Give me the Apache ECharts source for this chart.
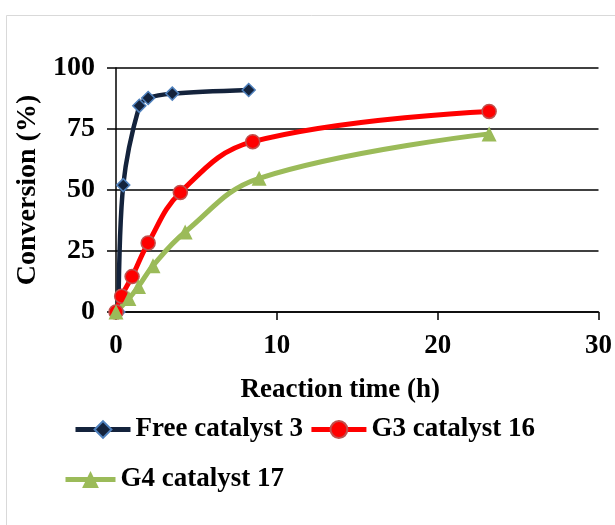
<!DOCTYPE html>
<html>
<head>
<meta charset="utf-8">
<script src="https://cdn.jsdelivr.net/npm/echarts@6/dist/echarts.min.js"></script>
<style>
  html, body { margin: 0; padding: 0; background: #fff; }
  #box { width: 615px; height: 525px; }
</style>
</head>
<body>
<div id="box"></div>
<script>
// reaction time (h) / conversion (%)
var freeTime = [0.15, 0.45, 1.45, 2.0, 3.5, 8.25];
var freeConv = [0, 52, 84.5, 87.7, 89.5, 91];
var g3Time = [0, 0.35, 1.0, 2.0, 4.0, 8.5, 23.2];
var g3Conv = [0, 6.5, 14.5, 28.3, 49, 69.8, 82.2];
var g4Time = [0, 0.8, 1.4, 2.3, 4.3, 8.9, 23.2];
var g4Conv = [0, 5.5, 10.5, 19, 32.8, 54.8, 73];
var xTicks = [0, 10, 20, 30];
var yTicks = [0, 25, 50, 75, 100];

function pairs(xs, ys) {
  return xs.map(function (x, i) { return [x, ys[i]]; });
}

var font = 'Liberation Serif';
var myChart = echarts.init(document.getElementById('box'));

var legendText = { fontFamily: font, fontWeight: 'bold', fontSize: 27, color: '#000' };

var option = {
  backgroundColor: '#fff',
  animation: false,
  graphic: [{
    type: 'rect',
    left: 4, top: 13,
    shape: { width: 640, height: 540 },
    style: { fill: 'none', stroke: '#d9d9d9', lineWidth: 1 },
    silent: true
  }],
  grid: { left: 116, right: 15, top: 68, bottom: 213 },
  xAxis: {
    type: 'value',
    min: xTicks[0], max: xTicks[xTicks.length - 1], interval: 10,
    name: 'Reaction time (h)',
    nameLocation: 'middle',
    nameGap: 65,
    nameTextStyle: { fontFamily: font, fontWeight: 'bold', fontSize: 27, color: '#000', padding: [0, 34, 0, 0] },
    axisLine: { lineStyle: { color: '#000', width: 1.5 } },
    axisTick: { show: true, inside: false, length: 8, lineStyle: { color: '#000', width: 1.5 } },
    axisLabel: { margin: 21, fontFamily: font, fontWeight: 'bold', fontSize: 27, color: '#000' },
    splitLine: { show: false }
  },
  yAxis: {
    type: 'value',
    min: yTicks[0], max: yTicks[yTicks.length - 1], interval: 25,
    name: 'Conversion (%)',
    nameLocation: 'middle',
    nameGap: 73,
    nameTextStyle: { fontFamily: font, fontWeight: 'bold', fontSize: 28, color: '#000' },
    axisLine: { show: true, lineStyle: { color: '#000', width: 1.5 } },
    axisTick: { show: true, inside: false, length: 9, lineStyle: { color: '#000', width: 1.5 } },
    axisLabel: { margin: 21, fontFamily: font, fontWeight: 'bold', fontSize: 28, color: '#000' },
    splitLine: { show: true, lineStyle: { color: '#000', width: 1.5 } }
  },
  legend: [
    {
      data: ['Free catalyst 3', 'G3 catalyst 16'],
      left: 73, top: 416, padding: 0,
      itemWidth: 55, itemHeight: 21, itemGap: 6,
      lineStyle: { width: 5 },
      textStyle: legendText
    },
    {
      data: ['G4 catalyst 17'],
      left: 63, top: 466, padding: 0,
      itemWidth: 50, itemHeight: 21,
      lineStyle: { width: 5 },
      textStyle: legendText
    }
  ],
  series: [
    {
      name: 'Free catalyst 3',
      type: 'line',
      data: pairs(freeTime, freeConv),
      smooth: 0.3,
      symbol: 'diamond',
      symbolSize: 13,
      lineStyle: { color: '#14233c', width: 4.5 },
      itemStyle: { color: '#14233c', borderColor: '#4f81bd', borderWidth: 1.5 }
    },
    {
      name: 'G3 catalyst 16',
      type: 'line',
      data: pairs(g3Time, g3Conv),
      smooth: 0.4,
      symbol: 'circle',
      symbolSize: 14,
      lineStyle: { color: '#ff0000', width: 5 },
      itemStyle: { color: '#ff0000', borderColor: '#c0504d', borderWidth: 1.5 }
    },
    {
      name: 'G4 catalyst 17',
      type: 'line',
      data: pairs(g4Time, g4Conv),
      smooth: 0.4,
      symbol: 'triangle',
      symbolSize: 15,
      lineStyle: { color: '#9bbb59', width: 5 },
      itemStyle: { color: '#9bbb59' }
    }
  ]
};

myChart.setOption(option);
</script>
</body>
</html>
